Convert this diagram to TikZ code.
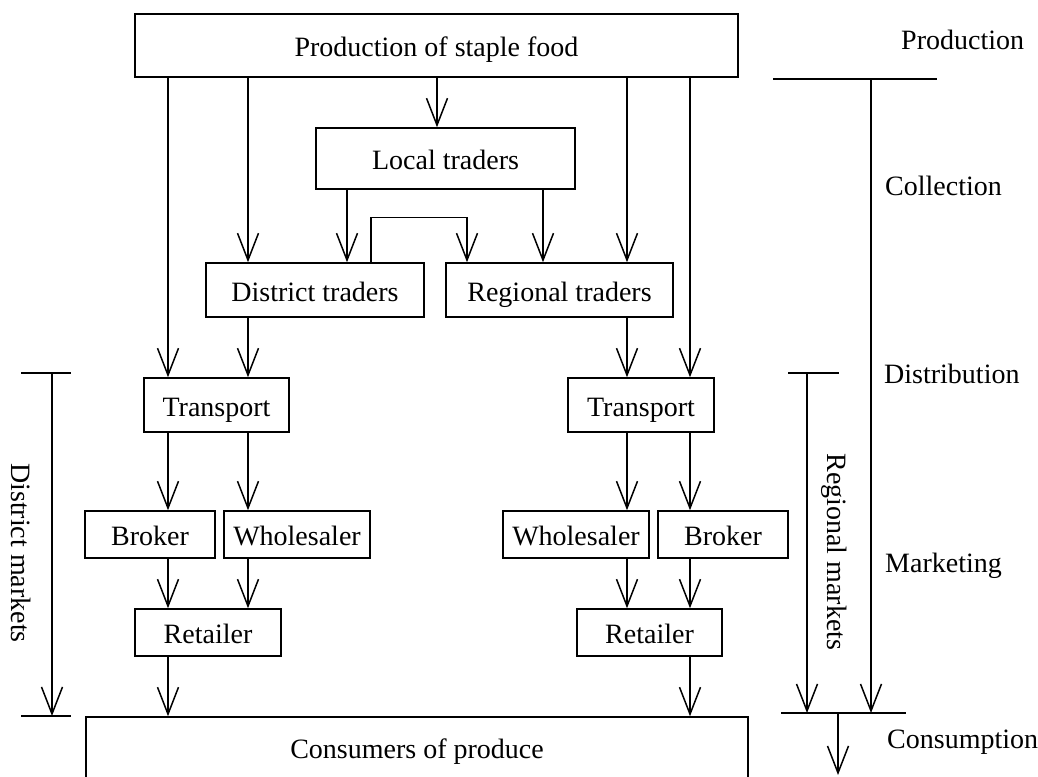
\documentclass[tikz,border=0pt]{standalone}
\usepackage{fontspec}
\setmainfont{Liberation Serif}
\usetikzlibrary{arrows.meta}
\begin{document}
\begin{tikzpicture}[x=1pt,y=-1pt,
  lw/.style={line width=1.5pt},
  box/.style={draw, lw, inner sep=0pt, text height=22pt, text depth=0pt, font=\fontsize{28}{32}\selectfont},
  lab/.style={inner sep=0pt, anchor=base west, font=\fontsize{28}{32}\selectfont},
  rlab/.style={inner sep=0pt, rotate=-90, font=\fontsize{28}{32}\selectfont},
  arr/.style={lw, -{Straight Barb[length=27pt,width=21pt,line width=1.5pt]}}]
\useasboundingbox (0,0) rectangle (1038,776);
% boxes
\node[box, minimum width=603pt, minimum height=63pt] (prod) at (436.5,45.5) {Production of staple food};
\node[box, minimum width=259pt, minimum height=61pt] (local) at (445.5,158.5) {Local traders};
\node[box, minimum width=218pt, minimum height=54pt] (dist) at (315,290) {District traders};
\node[box, minimum width=227pt, minimum height=54pt] (reg) at (559.5,290) {Regional traders};
\node[box, minimum width=145pt, minimum height=54pt] (tl) at (216.5,405) {Transport};
\node[box, minimum width=146pt, minimum height=54pt] (tr) at (641,405) {Transport};
\node[box, minimum width=130pt, minimum height=47pt] (bl) at (150,534.5) {Broker};
\node[box, minimum width=146pt, minimum height=47pt] (wl) at (297,534.5) {Wholesaler};
\node[box, minimum width=146pt, minimum height=47pt] (wr) at (576,534.5) {Wholesaler};
\node[box, minimum width=130pt, minimum height=47pt] (br) at (723,534.5) {Broker};
\node[box, minimum width=146pt, minimum height=47pt] (rl) at (208,632.5) {Retailer};
\node[box, minimum width=145pt, minimum height=47pt] (rr) at (649.5,632.5) {Retailer};
\node[box, minimum width=662pt, minimum height=84pt, text height=10pt, text depth=12pt] (cons) at (417,759) {Consumers of produce};
% x positions
\coordinate (xA) at (168,0);
\coordinate (xB) at (248,0);
\coordinate (xC) at (437,0);
\coordinate (xD) at (627,0);
\coordinate (xE) at (690,0);
\coordinate (xF) at (347,0);
\coordinate (xG) at (543,0);
\coordinate (xH) at (371,0);
\coordinate (xI) at (467,0);
% connectors
\draw[arr] (prod.south -| xA) -- (tl.north -| xA);
\draw[arr] (prod.south -| xB) -- (dist.north -| xB);
\draw[arr] (prod.south -| xC) -- (local.north -| xC);
\draw[arr] (prod.south -| xD) -- (reg.north -| xD);
\draw[arr] (prod.south -| xE) -- (tr.north -| xE);
\draw[arr] (local.south -| xF) -- (dist.north -| xF);
\draw[arr] (local.south -| xG) -- (reg.north -| xG);
\draw[arr] (dist.north -| xH) -- ++(0,-45) -| (reg.north -| xI);
\draw[arr] (dist.south -| xB) -- (tl.north -| xB);
\draw[arr] (reg.south -| xD) -- (tr.north -| xD);
\draw[arr] (tl.south -| xA) -- (bl.north -| xA);
\draw[arr] (tl.south -| xB) -- (wl.north -| xB);
\draw[arr] (tr.south -| xD) -- (wr.north -| xD);
\draw[arr] (tr.south -| xE) -- (br.north -| xE);
\draw[arr] (bl.south -| xA) -- (rl.north -| xA);
\draw[arr] (wl.south -| xB) -- (rl.north -| xB);
\draw[arr] (wr.south -| xD) -- (rr.north -| xD);
\draw[arr] (br.south -| xE) -- (rr.north -| xE);
\draw[arr] (rl.south -| xA) -- (cons.north -| xA);
\draw[arr] (rr.south -| xE) -- (cons.north -| xE);
% left bracket (district markets)
\coordinate (dmT) at (52,373);
\coordinate (dmB) at (52,716);
\draw[lw] (21,373) -- (71,373);
\draw[lw] (21,716) -- (71,716);
\draw[arr] (dmT) -- (dmB);
\node[rlab] (dm) at (21,553) {District markets};
% right bracket (regional markets)
\coordinate (rmT) at (807,373);
\coordinate (rmB) at (807,713);
\draw[lw] (788,373) -- (839,373);
\draw[arr] (rmT) -- (rmB);
\node[rlab] (rm) at (834,552) {Regional markets};
% stages line
\coordinate (stT) at (871,79);
\coordinate (stB) at (871,713);
\draw[lw] (773,79) -- (937,79);
\draw[arr] (stT) -- (stB);
\coordinate (csT) at (838,713);
\coordinate (csB) at (838,775);
\draw[lw] (781,713) -- (906,713);
\draw[arr] (csT) -- (csB);
% stage labels
\node[lab] (lp) at (901,50) {Production};
\node[lab] (lc) at (885,195) {Collection};
\node[lab] (ld) at (884,383) {Distribution};
\node[lab] (lm) at (885,572) {Marketing};
\node[lab] (lcs) at (887,748) {Consumption};
\end{tikzpicture}
\end{document}
